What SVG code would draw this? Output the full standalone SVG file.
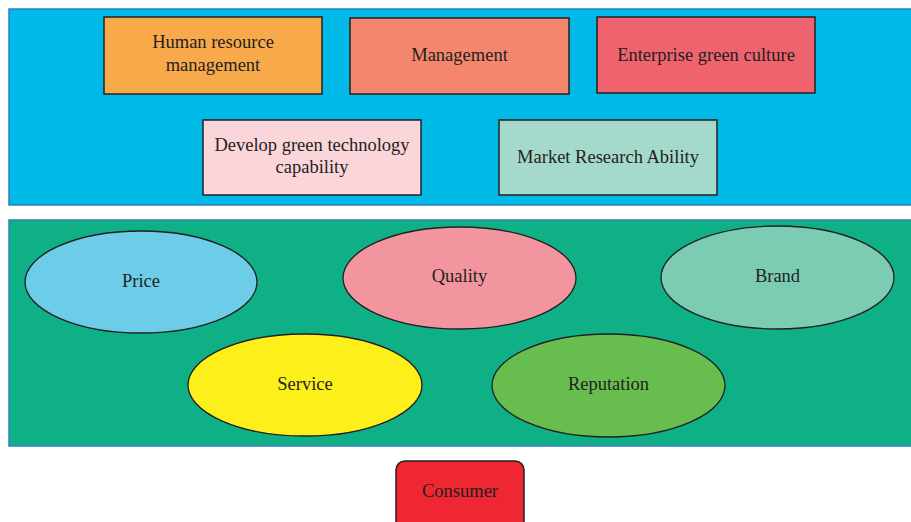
<svg xmlns="http://www.w3.org/2000/svg" width="911" height="522" viewBox="0 0 911 522">
  <style>
    .panel { stroke: #2f7fc1; stroke-width: 1.5; }
    .box { stroke: #231f20; stroke-width: 1.5; }
    .oval { stroke: #231f20; stroke-width: 1.3; }
    text { font-family: "Liberation Serif", "DejaVu Serif", serif; font-size: 18.5px; fill: #231f20; text-anchor: middle; }
  </style>
  <rect width="911" height="522" fill="#ffffff"/>

  <!-- upper layer: enterprise capabilities -->
  <rect id="panel-top" class="panel" x="9" y="9" width="903" height="196" fill="#00b9e6"/>

  <g id="node-hr">
    <rect class="box" x="104" y="17" width="218" height="77" fill="#f8aa4b"/>
    <text x="213" y="48">Human resource</text>
    <text x="213" y="71">management</text>
  </g>
  <g id="node-management">
    <rect class="box" x="350" y="18" width="219" height="76" fill="#f4866e"/>
    <text x="459.5" y="61">Management</text>
  </g>
  <g id="node-culture">
    <rect class="box" x="597" y="17" width="218" height="76" fill="#ef636f"/>
    <text x="706" y="61">Enterprise green culture</text>
  </g>
  <g id="node-technology">
    <rect class="box" x="203" y="120" width="218" height="75" fill="#fad5d9"/>
    <text x="312" y="151">Develop green technology</text>
    <text x="312" y="173">capability</text>
  </g>
  <g id="node-market">
    <rect class="box" x="499" y="120" width="218" height="75" fill="#a5d9cb"/>
    <text x="608" y="163">Market Research Ability</text>
  </g>

  <!-- middle layer: product attributes -->
  <rect id="panel-middle" class="panel" x="9" y="220" width="903" height="226" fill="#10b087"/>

  <g id="node-price">
    <ellipse class="oval" cx="141" cy="282" rx="116" ry="51" fill="#6dcde8"/>
    <text x="141" y="287">Price</text>
  </g>
  <g id="node-quality">
    <ellipse class="oval" cx="459.5" cy="278" rx="116.5" ry="51" fill="#f3959f"/>
    <text x="459.5" y="282">Quality</text>
  </g>
  <g id="node-brand">
    <ellipse class="oval" cx="777.5" cy="277.5" rx="116.5" ry="51.5" fill="#7ccbb3"/>
    <text x="777.5" y="282">Brand</text>
  </g>
  <g id="node-service">
    <ellipse class="oval" cx="305" cy="385" rx="117" ry="51" fill="#fdf01a"/>
    <text x="305" y="390">Service</text>
  </g>
  <g id="node-reputation">
    <ellipse class="oval" cx="608.5" cy="385.5" rx="116.5" ry="51.5" fill="#68bd4f"/>
    <text x="608.5" y="390">Reputation</text>
  </g>

  <!-- bottom: consumer -->
  <g id="node-consumer">
    <rect class="box" x="396" y="461" width="128" height="76" rx="9" fill="#ee2733"/>
    <text x="460" y="497">Consumer</text>
  </g>

  <g id="connectors"></g>
</svg>
